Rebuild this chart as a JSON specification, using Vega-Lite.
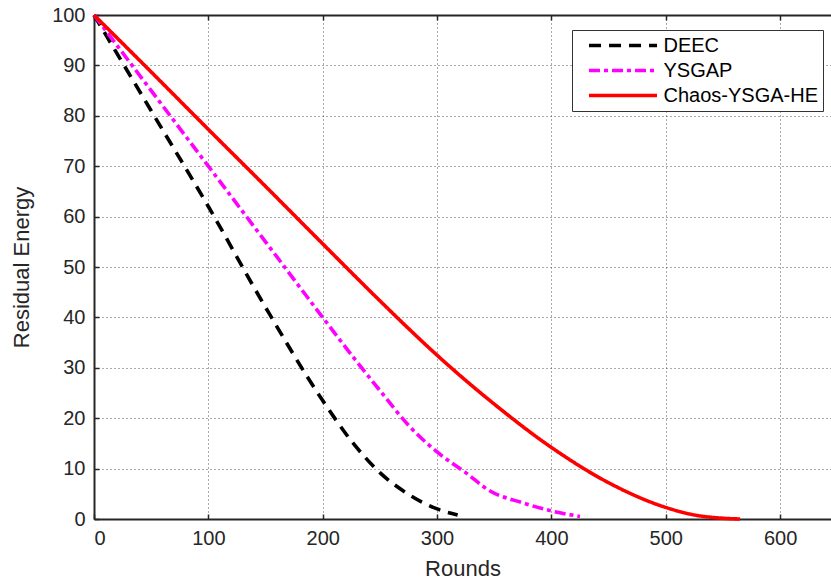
{
  "$schema": "https://vega.github.io/schema/vega-lite/v6.json",
  "autosize": {"type": "none"},
  "width": 737,
  "height": 504,
  "padding": {"left": 94, "top": 15, "right": 0, "bottom": 63},
  "background": "white",
  "config": {
    "view": {"stroke": null},
    "font": "Liberation Sans",
    "axis": {
      "labelFont": "Liberation Sans",
      "titleFont": "Liberation Sans",
      "labelFontSize": 20,
      "titleFontSize": 22,
      "titleFontWeight": "normal",
      "labelColor": "#262626",
      "titleColor": "#262626",
      "domainColor": "#262626",
      "domainWidth": 2,
      "tickColor": "#262626",
      "tickWidth": 1.5,
      "tickSize": -5,
      "gridColor": "#444444",
      "gridDash": [1, 3],
      "gridWidth": 1,
      "gridOpacity": 0.9
    },
    "legend": {
      "labelFont": "Liberation Sans",
      "labelFontSize": 20,
      "labelColor": "#000000"
    }
  },
  "data": {
    "values": [
      {"s": "DEEC", "r": 0, "e": 100},
      {"s": "DEEC", "r": 50, "e": 81},
      {"s": "DEEC", "r": 100, "e": 62},
      {"s": "DEEC", "r": 150, "e": 42},
      {"s": "DEEC", "r": 200, "e": 23.5},
      {"s": "DEEC", "r": 225, "e": 15.5},
      {"s": "DEEC", "r": 250, "e": 9.2},
      {"s": "DEEC", "r": 275, "e": 4.9},
      {"s": "DEEC", "r": 300, "e": 2},
      {"s": "DEEC", "r": 318, "e": 0.8},
      {"s": "YSGAP", "r": 0, "e": 100},
      {"s": "YSGAP", "r": 50, "e": 85},
      {"s": "YSGAP", "r": 100, "e": 70},
      {"s": "YSGAP", "r": 150, "e": 55},
      {"s": "YSGAP", "r": 200, "e": 40},
      {"s": "YSGAP", "r": 225, "e": 32.6},
      {"s": "YSGAP", "r": 250, "e": 25.5},
      {"s": "YSGAP", "r": 275, "e": 18.6},
      {"s": "YSGAP", "r": 300, "e": 13.3},
      {"s": "YSGAP", "r": 325, "e": 9.2},
      {"s": "YSGAP", "r": 346, "e": 5.6},
      {"s": "YSGAP", "r": 375, "e": 3.2},
      {"s": "YSGAP", "r": 400, "e": 1.6},
      {"s": "YSGAP", "r": 425, "e": 0.5},
      {"s": "Chaos-YSGA-HE", "r": 0, "e": 100},
      {"s": "Chaos-YSGA-HE", "r": 50, "e": 88.7},
      {"s": "Chaos-YSGA-HE", "r": 100, "e": 77.3},
      {"s": "Chaos-YSGA-HE", "r": 150, "e": 66},
      {"s": "Chaos-YSGA-HE", "r": 200, "e": 54.6},
      {"s": "Chaos-YSGA-HE", "r": 250, "e": 43.3},
      {"s": "Chaos-YSGA-HE", "r": 275, "e": 37.8},
      {"s": "Chaos-YSGA-HE", "r": 300, "e": 32.5},
      {"s": "Chaos-YSGA-HE", "r": 350, "e": 22.8},
      {"s": "Chaos-YSGA-HE", "r": 400, "e": 14.2},
      {"s": "Chaos-YSGA-HE", "r": 450, "e": 7.2},
      {"s": "Chaos-YSGA-HE", "r": 500, "e": 2.3},
      {"s": "Chaos-YSGA-HE", "r": 525, "e": 0.8},
      {"s": "Chaos-YSGA-HE", "r": 550, "e": 0.15},
      {"s": "Chaos-YSGA-HE", "r": 565, "e": 0}
    ]
  },
  "layer": [
    {
      "mark": {"type": "line", "opacity": 0},
      "encoding": {
        "x": {
          "field": "r",
          "type": "quantitative",
          "scale": {"domain": [0, 644.5], "nice": false, "zero": false},
          "axis": {"orient": "top", "labels": false, "grid": false, "title": null, "values": [0, 100, 200, 300, 400, 500, 600]}
        },
        "y": {
          "field": "e",
          "type": "quantitative",
          "scale": {"domain": [0, 100], "nice": false},
          "axis": {"title": "Residual Energy", "grid": true, "values": [0, 10, 20, 30, 40, 50, 60, 70, 80, 90, 100], "labelPadding": 14, "titlePadding": 18}
        },
        "detail": {"field": "s"}
      }
    },
    {
      "mark": {"type": "line", "strokeWidth": 3.6, "strokeCap": "butt", "interpolate": "monotone"},
      "encoding": {
        "x": {
          "field": "r",
          "type": "quantitative",
          "scale": {"domain": [0, 644.5], "nice": false, "zero": false},
          "axis": {"title": "Rounds", "grid": true, "values": [0, 100, 200, 300, 400, 500, 600], "labelPadding": 14, "titlePadding": 10}
        },
        "y": {
          "field": "e",
          "type": "quantitative",
          "scale": {"domain": [0, 100], "nice": false},
          "axis": {"title": "Residual Energy", "grid": true, "values": [0, 10, 20, 30, 40, 50, 60, 70, 80, 90, 100], "labelPadding": 14, "titlePadding": 18}
        },
        "color": {
          "field": "s",
          "type": "nominal",
          "scale": {"domain": ["DEEC", "YSGAP", "Chaos-YSGA-HE"], "range": ["#000000", "#FF00FF", "#FF0000"]},
          "legend": {
            "title": null,
            "orient": "none",
            "legendX": 478,
            "legendY": 15,
            "fillColor": "white",
            "strokeColor": "#333333",
            "padding": 5,
            "symbolType": "M-4,0H4",
            "symbolSize": 289,
            "symbolOffset": 35.5,
            "symbolStrokeWidth": 3.6,
            "rowPadding": 4,
            "labelOffset": 30
          }
        },
        "strokeDash": {
          "field": "s",
          "type": "nominal",
          "scale": {"domain": ["DEEC", "YSGAP", "Chaos-YSGA-HE"], "range": [[12, 8], [11, 4, 4, 4], [1, 0]]},
          "legend": {
            "title": null,
            "orient": "none",
            "legendX": 478,
            "legendY": 15,
            "fillColor": "white",
            "strokeColor": "#333333",
            "padding": 5,
            "symbolType": "M-4,0H4",
            "symbolSize": 289,
            "symbolOffset": 35.5,
            "symbolStrokeWidth": 3.6,
            "rowPadding": 4,
            "labelOffset": 30
          }
        }
      }
    }
  ],
  "resolve": {"axis": {"x": "independent"}}
}
